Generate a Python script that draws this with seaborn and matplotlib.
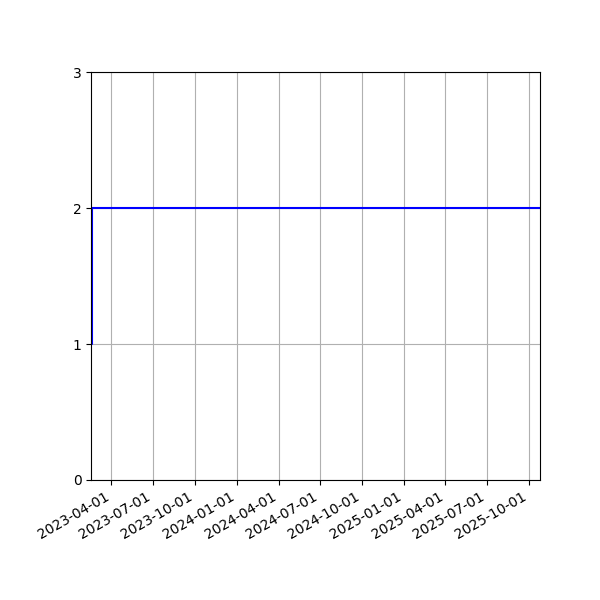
import pandas as pd
import matplotlib
matplotlib.use('Agg')
import matplotlib.pyplot as plt
import matplotlib.dates as mdates
import seaborn as sns

# step series: count jumps from 1 to 2 right at the start
dates = pd.to_datetime(['2023-02-16', '2023-02-17', '2025-10-25'])
counts = [1, 2, 2]

df = pd.DataFrame({'date': dates, 'count': counts})

# keep matplotlib's classic look (black text, short ticks)
sns.reset_orig()
plt.rcParams['font.family'] = ['DejaVu Sans']

fig, ax = plt.subplots(figsize=(6, 6), dpi=100)
sns.lineplot(data=df, x='date', y='count', ax=ax, color='blue',
             drawstyle='steps-post', linewidth=1.5)

ax.set_xlim(df['date'].min(), df['date'].max())
ax.set_ylim(0, 3)
ax.set_yticks([0, 1, 2, 3])
ax.xaxis.set_major_locator(mdates.MonthLocator(bymonth=[1, 4, 7, 10]))
ax.xaxis.set_major_formatter(mdates.DateFormatter('%Y-%m-%d'))
ax.grid(True, color='#b0b0b0', linewidth=0.8)
ax.set_xlabel('')
ax.set_ylabel('')

fig.autofmt_xdate()
fig.subplots_adjust(left=0.152, right=0.9, top=0.88, bottom=0.2)
fig.savefig('out.png', dpi=100)
